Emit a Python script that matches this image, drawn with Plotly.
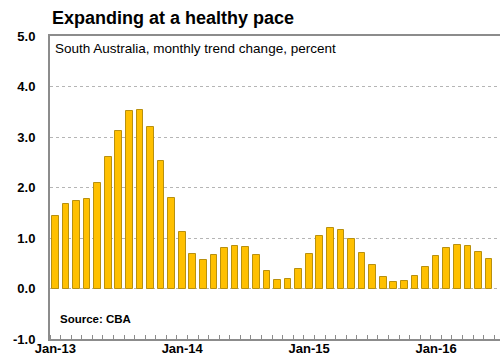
import plotly.graph_objects as go

MONTHS = [f"{m}-{y}" for y in ["13", "14", "15", "16"]
          for m in ["Jan", "Feb", "Mar", "Apr", "May", "Jun", "Jul", "Aug", "Sep", "Oct", "Nov", "Dec"]][:42]
VALUES = [1.43, 1.67, 1.74, 1.78, 2.09, 2.61, 3.12, 3.52, 3.54, 3.19, 2.53, 1.79,
          1.12, 0.69, 0.57, 0.66, 0.80, 0.85, 0.82, 0.66, 0.35, 0.17, 0.18, 0.38,
          0.68, 1.03, 1.20, 1.16, 0.99, 0.70, 0.47, 0.23, 0.13, 0.15, 0.25, 0.43,
          0.64, 0.80, 0.86, 0.84, 0.72, 0.59]
TICK_LABELS = ["Jan-13", "Jan-14", "Jan-15", "Jan-16"]
Y_TICKS = [-1, 0, 1, 2, 3, 4, 5]

TITLE = "Expanding at a healthy pace"
SUBTITLE = "South Australia, monthly trend change, percent"
SOURCE = "Source: CBA"

FONT = "Arial, 'Liberation Sans', sans-serif"
x_idx = list(range(len(MONTHS)))

fig = go.Figure()
fig.add_trace(go.Bar(
    x=x_idx, y=VALUES, width=0.63,
    marker=dict(color="#FFC000", line=dict(color="#B8900F", width=1)),
    hovertext=MONTHS,
))

fig.update_layout(
    width=500, height=358,
    margin=dict(l=50, r=0, t=36, b=19),
    paper_bgcolor="white", plot_bgcolor="white",
    showlegend=False,
    font=dict(family=FONT, color="black"),
    bargap=0,
)

fig.update_xaxes(
    range=[-0.5, 42.04],
    tickmode="array",
    tickvals=[MONTHS.index(t) for t in TICK_LABELS],
    ticktext=[f"<b>{t}</b>" for t in TICK_LABELS],
    ticks="", ticklabelstandoff=-4, showgrid=False, zeroline=False,
    tickfont=dict(size=13, family=FONT, color="black"),
    showline=True, linecolor="#8c8c8c", linewidth=2, mirror=True,
    minor=dict(tickmode="array", tickvals=[i - 0.5 for i in range(len(MONTHS) + 1)],
               ticks="inside", ticklen=4, tickcolor="#8c8c8c", tickwidth=1, showgrid=False),
    automargin=False,
)

fig.update_yaxes(
    range=[-1, 5],
    tickmode="array",
    tickvals=Y_TICKS,
    ticktext=[f"<b>{v:.1f}</b>" for v in Y_TICKS],
    ticks="", ticklabelstandoff=10,
    tickfont=dict(size=13, family=FONT, color="black"),
    showgrid=True, gridcolor="#b5b5b5", gridwidth=1, griddash="dot",
    zeroline=False,
    showline=True, linecolor="#8c8c8c", linewidth=2,
    automargin=False,
)

fig.add_annotation(text=f"<b>{TITLE}</b>", xref="paper", yref="paper",
                   x=0, y=(339 - 18) / 303, xanchor="left", yanchor="middle",
                   showarrow=False, font=dict(size=18, family=FONT, color="black"))
fig.add_annotation(text=SUBTITLE, xref="paper", yref="paper",
                   x=0, y=(339 - 48) / 303, xanchor="left", yanchor="middle", xshift=3,
                   showarrow=False, font=dict(size=13.5, family=FONT, color="black"))
fig.add_annotation(text=f"<b>{SOURCE}</b>", xref="paper", yref="paper",
                   x=0, y=(339 - 319) / 303, xanchor="left", yanchor="middle", xshift=8,
                   showarrow=False, font=dict(size=11.5, family=FONT, color="black"))

fig.write_html("out.html")
